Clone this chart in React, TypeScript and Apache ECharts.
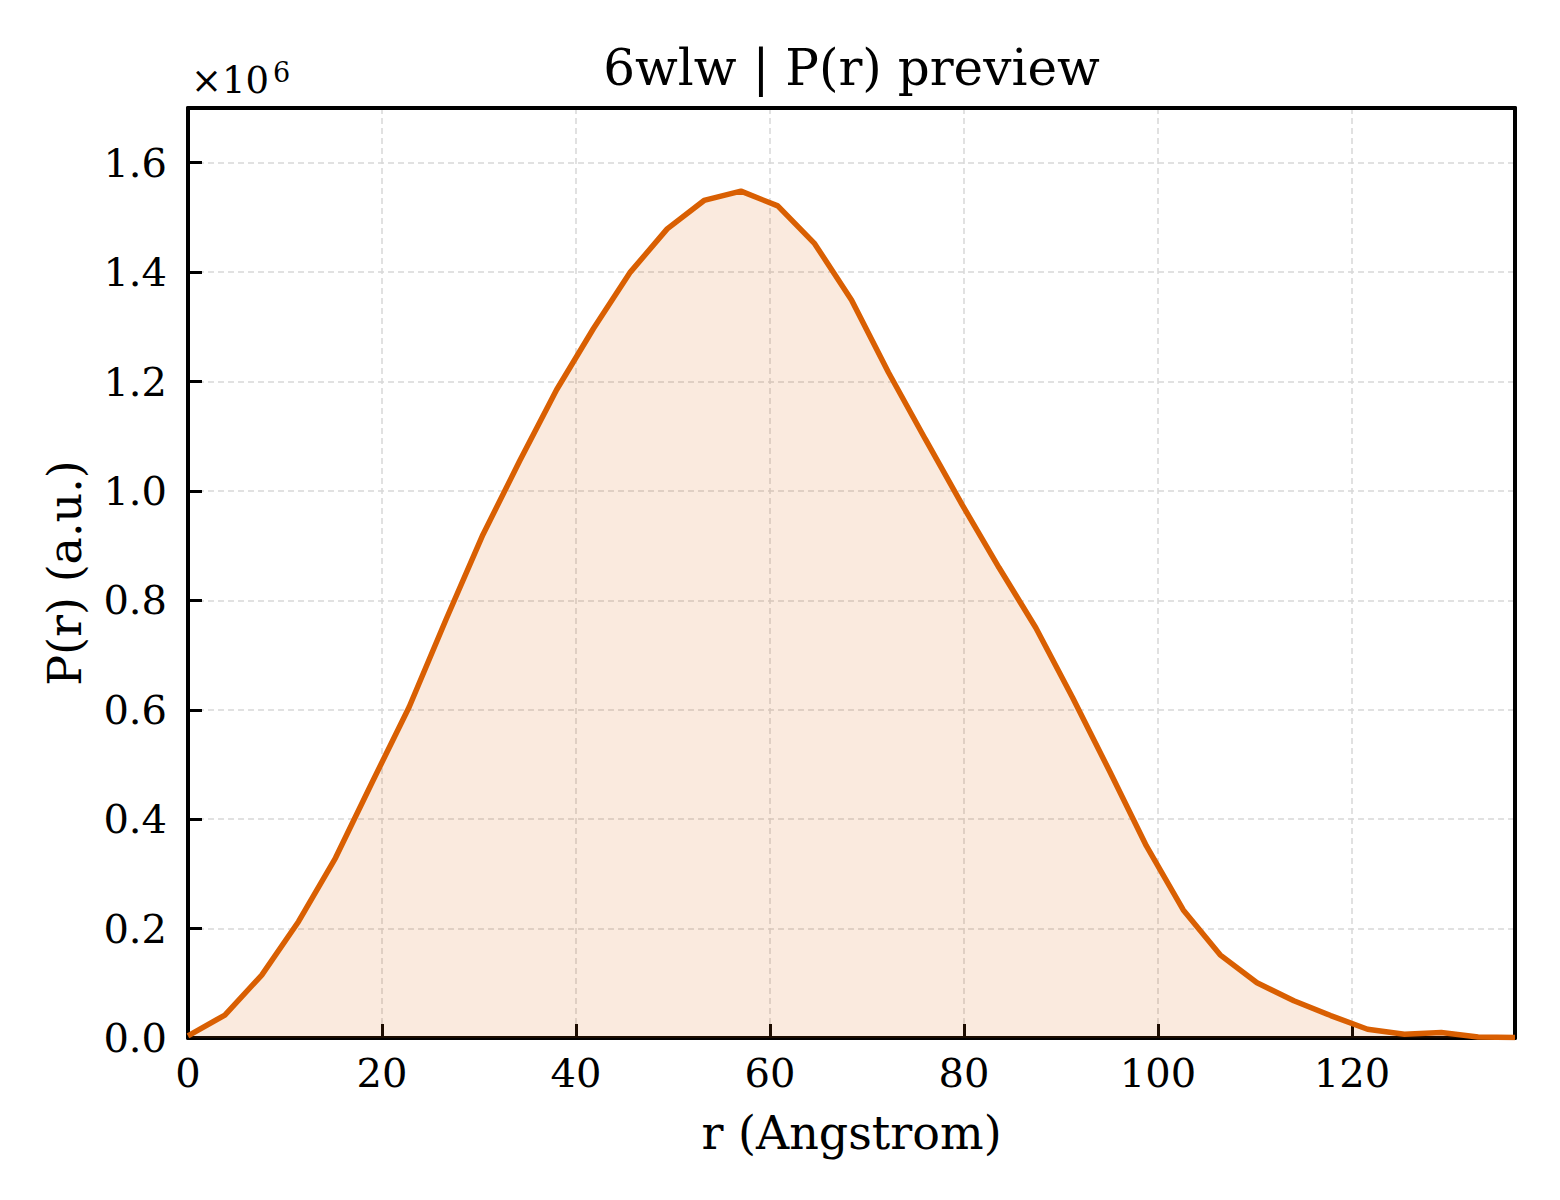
import React, { useEffect, useRef } from 'react';
import * as echarts from 'echarts';

// r in Angstrom, P(r) in units of 1e6 (a.u.)
const rAngstrom = [
  0, 3.8, 7.6, 11.4, 15.2, 19.0, 22.8, 26.6, 30.4, 34.2, 38.0, 41.8, 45.6,
  49.4, 53.2, 57.0, 60.8, 64.6, 68.4, 72.2, 76.0, 79.8, 83.6, 87.4, 91.2,
  95.0, 98.8, 102.6, 106.4, 110.2, 114.0, 117.8, 121.6, 125.4, 129.2, 133.0,
  136.8,
];

const prScaled = [
  0.004, 0.042, 0.115, 0.213, 0.329, 0.468, 0.605, 0.765, 0.92, 1.055, 1.185,
  1.297, 1.4, 1.479, 1.531, 1.548, 1.521, 1.452, 1.349, 1.217, 1.095, 0.975,
  0.86, 0.75, 0.622, 0.488, 0.351, 0.234, 0.152, 0.101, 0.068, 0.041, 0.016,
  0.007, 0.01, 0.002, 0.001,
];

const X_MAX = 136.8;
const Y_MAX = 1.7;

const FONT = 'DejaVu Serif';
const LINE_COLOR = '#d95f02';

export default function App() {
  const elRef = useRef<HTMLDivElement>(null);

  useEffect(() => {
    document.body.style.margin = '0';
    if (!elRef.current) return;
    const chart = echarts.init(elRef.current, undefined, { renderer: 'svg' });

    const gridLine = {
      show: true,
      showMinLine: false,
      showMaxLine: false,
      lineStyle: { color: '#d8d8d8', width: 1.5, type: [6, 4] as number[] },
    };
    const spine = { show: true, onZero: false, lineStyle: { color: '#000', width: 4 } };
    const tick = { show: true, inside: true, length: 14, lineStyle: { color: '#000', width: 3 } };
    // top/right spines only, matplotlib style box
    const frameAxis = {
      axisLine: spine,
      axisTick: { show: false },
      axisLabel: { show: false },
      splitLine: { show: false },
    };

    chart.setOption({
      animation: false,
      backgroundColor: '#fff',
      grid: { left: 188, right: 45, top: 108, bottom: 162 },
      xAxis: [
        {
          type: 'value',
          min: 0,
          max: X_MAX,
          interval: 20,
          name: 'r (Angstrom)',
          nameLocation: 'middle',
          nameGap: 72,
          nameTextStyle: { fontFamily: FONT, fontSize: 46, color: '#000' },
          axisLine: spine,
          axisTick: tick,
          axisLabel: {
            fontFamily: FONT,
            fontSize: 40,
            color: '#000',
            margin: 15,
            showMaxLabel: false,
          },
          splitLine: gridLine,
        },
        { type: 'value', position: 'top', min: 0, max: X_MAX, ...frameAxis },
      ],
      yAxis: [
        {
          type: 'value',
          min: 0,
          max: Y_MAX,
          interval: 0.2,
          name: 'P(r) (a.u.)',
          nameLocation: 'middle',
          nameGap: 100,
          nameTextStyle: { fontFamily: FONT, fontSize: 46, color: '#000' },
          axisLine: spine,
          axisTick: tick,
          axisLabel: {
            fontFamily: FONT,
            fontSize: 40,
            color: '#000',
            margin: 21,
            showMaxLabel: false,
            formatter: (v: number) => v.toFixed(1),
          },
          splitLine: gridLine,
        },
        { type: 'value', position: 'right', min: 0, max: Y_MAX, ...frameAxis },
      ],
      series: [
        {
          type: 'line',
          data: rAngstrom.map((r, i) => [r, prScaled[i]]),
          symbol: 'none',
          lineStyle: { color: LINE_COLOR, width: 5.5 },
          areaStyle: { color: LINE_COLOR, opacity: 0.13 },
          silent: true,
        },
      ],
      graphic: [
        {
          type: 'text',
          x: 851.5,
          y: 68,
          style: {
            text: '6wlw | P(r) preview',
            fontFamily: FONT,
            fontSize: 50,
            fill: '#000',
            textAlign: 'center',
            textVerticalAlign: 'middle',
          },
        },
        {
          type: 'text',
          x: 191,
          y: 99,
          style: {
            text: '×10',
            fontFamily: FONT,
            fontSize: 37,
            fill: '#000',
            textAlign: 'left',
            textVerticalAlign: 'bottom',
          },
        },
        {
          type: 'text',
          x: 273,
          y: 86,
          style: {
            text: '6',
            fontFamily: FONT,
            fontSize: 27,
            fill: '#000',
            textAlign: 'left',
            textVerticalAlign: 'bottom',
          },
        },
      ],
    });

    return () => chart.dispose();
  }, []);

  return <div ref={elRef} style={{ width: 1560, height: 1200 }} />;
}
